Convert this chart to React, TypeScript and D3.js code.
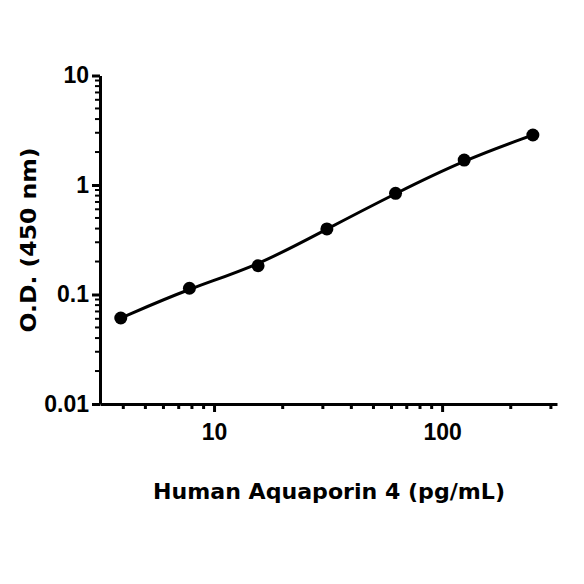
import React, { useEffect, useRef } from 'react';
import * as d3 from 'd3';

const width = 584;
const height = 584;

// standard concentrations (pg/mL) and mean O.D. readings
const concentrations = [3.9, 7.8, 15.6, 31.25, 62.5, 125, 250];
const odValues = [0.061, 0.114, 0.183, 0.397, 0.839, 1.69, 2.86];

const xTickValues = [10, 100];
const yTickValues = [0.01, 0.1, 1, 10];
const xMinorTicks = [4, 5, 6, 7, 8, 9, 20, 30, 40, 50, 60, 70, 80, 90, 200, 300];
const yMinorTicks = [
  0.02, 0.03, 0.04, 0.05, 0.06, 0.07, 0.08, 0.09,
  0.2, 0.3, 0.4, 0.5, 0.6, 0.7, 0.8, 0.9,
  2, 3, 4, 5, 6, 7, 8, 9,
];

const xTitle = 'Human Aquaporin 4 (pg/mL)';
const yTitle = 'O.D. (450 nm)';

const plotLeft = 100;
const plotRight = 557;
const plotTop = 75.5;
const plotBottom = 404;

const tickFont = '"Liberation Sans Narrow", "Arial Narrow", "Liberation Sans", sans-serif';
const titleFont = '"DejaVu Sans", Lato, sans-serif';

const App = () => {
  const xAxisRef = useRef(null);
  const yAxisRef = useRef(null);
  const plotRef = useRef(null);

  const x = d3.scaleLog().domain([3.162, 319]).range([plotLeft, plotRight]);
  const y = d3.scaleLog().domain([0.01, 10]).range([plotBottom, plotTop]);

  useEffect(() => {
    document.body.style.margin = '0';

    // x axis
    const xg = d3.select(xAxisRef.current);
    xg.selectAll('*').remove();
    xg.call(
      d3.axisBottom(x).tickValues(xTickValues).tickSizeInner(8).tickSizeOuter(0).tickPadding(12)
        .tickFormat((d) => String(d))
    )
      .call((g) => g.select('.domain').attr('stroke-width', 3))
      .call((g) => g.selectAll('.tick line').attr('stroke-width', 3))
      .call((g) =>
        g.selectAll('.tick text')
          .attr('font-family', tickFont)
          .attr('font-weight', 'bold')
          .attr('font-size', 23)
          .attr('fill', '#000')
      );
    xg.append('g')
      .selectAll('line')
      .data(xMinorTicks)
      .join('line')
      .attr('x1', (d) => x(d))
      .attr('x2', (d) => x(d))
      .attr('y1', 0)
      .attr('y2', 5)
      .attr('stroke', '#000')
      .attr('stroke-width', 3);

    // y axis
    const yg = d3.select(yAxisRef.current);
    yg.selectAll('*').remove();
    yg.call(
      d3.axisLeft(y).tickValues(yTickValues).tickSizeInner(8).tickSizeOuter(0).tickPadding(3)
        .tickFormat((d) => String(d))
    )
      .call((g) => g.select('.domain').attr('stroke-width', 3))
      .call((g) => g.selectAll('.tick line').attr('stroke-width', 3))
      .call((g) =>
        g.selectAll('.tick text')
          .attr('font-family', tickFont)
          .attr('font-weight', 'bold')
          .attr('font-size', 23)
          .attr('fill', '#000')
      );
    yg.append('g')
      .selectAll('line')
      .data(yMinorTicks)
      .join('line')
      .attr('x1', -5)
      .attr('x2', 0)
      .attr('y1', (d) => y(d))
      .attr('y2', (d) => y(d))
      .attr('stroke', '#000')
      .attr('stroke-width', 2);

    // fitted curve + points
    const pg = d3.select(plotRef.current);
    pg.selectAll('*').remove();
    const pts: [number, number][] = concentrations.map((c, i) => [c, odValues[i]]);
    const line = d3
      .line<[number, number]>()
      .x((d) => x(d[0]))
      .y((d) => y(d[1]))
      .curve(d3.curveBasis);
    pg.append('path')
      .datum(pts)
      .attr('d', line)
      .attr('fill', 'none')
      .attr('stroke', '#000')
      .attr('stroke-width', 3);
    pg.selectAll('circle')
      .data(pts)
      .join('circle')
      .attr('cx', (d) => x(d[0]))
      .attr('cy', (d) => y(d[1]))
      .attr('r', 6.5)
      .attr('fill', '#000');
  }, []);

  return (
    <svg
      width={width}
      height={height}
      viewBox={`0 0 ${width} ${height}`}
      style={{ display: 'block', background: '#fff' }}
    >
      <g ref={plotRef}></g>
      <g ref={xAxisRef} transform={`translate(0,${plotBottom})`}></g>
      <g ref={yAxisRef} transform={`translate(${plotLeft},0)`}></g>
      <text
        x={329}
        y={499}
        textAnchor="middle"
        fontFamily={titleFont}
        fontWeight="bold"
        fontSize={21}
        textLength={352}
        lengthAdjust="spacingAndGlyphs"
        fill="#000"
      >
        {xTitle}
      </text>
      <text
        transform={`translate(36,240) rotate(-90)`}
        textAnchor="middle"
        fontFamily={titleFont}
        fontWeight="bold"
        fontSize={21}
        textLength={185}
        lengthAdjust="spacingAndGlyphs"
        fill="#000"
      >
        {yTitle}
      </text>
    </svg>
  );
};

export default App;
